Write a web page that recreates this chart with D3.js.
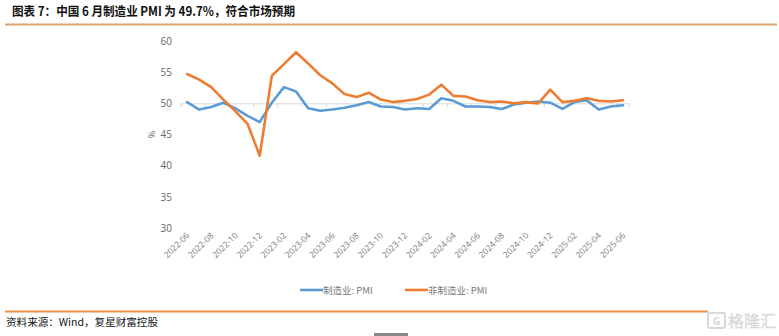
<!DOCTYPE html>
<html>
<head>
<meta charset="utf-8">
<script src="https://cdn.jsdelivr.net/npm/d3@7/dist/d3.min.js"></script>
<style>
  html, body { margin: 0; padding: 0; background: #fff; }
  svg { display: block; }
</style>
</head>
<body>
<svg id="chart" width="779" height="336"></svg>
<script>
// Monthly PMI, 2022-06 .. 2025-06
const months = [
  "2022-06","2022-07","2022-08","2022-09","2022-10","2022-11","2022-12",
  "2023-01","2023-02","2023-03","2023-04","2023-05","2023-06","2023-07","2023-08","2023-09","2023-10","2023-11","2023-12",
  "2024-01","2024-02","2024-03","2024-04","2024-05","2024-06","2024-07","2024-08","2024-09","2024-10","2024-11","2024-12",
  "2025-01","2025-02","2025-03","2025-04","2025-05","2025-06"
];
const manufacturing = [
  50.2, 49.0, 49.4, 50.1, 49.2, 48.0, 47.0,
  50.1, 52.6, 51.9, 49.2, 48.8, 49.0, 49.3, 49.7, 50.2, 49.5, 49.4, 49.0,
  49.2, 49.1, 50.8, 50.4, 49.5, 49.5, 49.4, 49.1, 49.8, 50.1, 50.3, 50.1,
  49.1, 50.2, 50.5, 49.0, 49.5, 49.7
];
const nonManufacturing = [
  54.7, 53.8, 52.6, 50.6, 48.7, 46.7, 41.6,
  54.4, 56.3, 58.2, 56.4, 54.5, 53.2, 51.5, 51.0, 51.7, 50.6, 50.2, 50.4,
  50.7, 51.4, 53.0, 51.2, 51.1, 50.5, 50.2, 50.3, 50.0, 50.2, 50.0, 52.2,
  50.2, 50.4, 50.8, 50.4, 50.3, 50.5
];
const yTicks = [30, 35, 40, 45, 50, 55, 60];
const seriesNames = ["制造业: PMI", "非制造业:  PMI"];
const seriesColors = ["#5b9bd5", "#ed7d31"];

const svg = d3.select("#chart");
const cjk = "'Noto Sans CJK SC', 'Noto Sans', sans-serif";

// Title and rule
svg.append("text")
  .attr("x", 12).attr("y", 16)
  .attr("font-family", cjk).attr("font-size", 12.5).attr("font-weight", "bold")
  .attr("fill", "#111")
  .attr("textLength", 283).attr("lengthAdjust", "spacingAndGlyphs")
  .text("图表 7：中国 6 月制造业 PMI 为 49.7%，符合市场预期");
svg.append("line")
  .attr("x1", 5).attr("x2", 777).attr("y1", 24.5).attr("y2", 24.5)
  .attr("stroke", "#dba56d").attr("stroke-width", 2);

// Scales
const x = d3.scaleBand().domain(months).range([181, 629]);
const y = d3.scaleLinear().domain([30, 60]).range([228, 41]);
const cx = d => x(d) + x.bandwidth() / 2;

// Y axis labels
const yAxis = d3.axisLeft(y).tickValues(yTicks).tickSize(0).tickPadding(0);
const gy = svg.append("g").attr("transform", "translate(172,0)").call(yAxis);
gy.select(".domain").remove();
gy.selectAll("text")
  .attr("font-family", "'Open Sans', sans-serif").attr("font-size", 10)
  .attr("fill", "#666");

svg.append("text")
  .attr("transform", `translate(155,${y(45)}) rotate(-90)`)
  .attr("text-anchor", "middle")
  .attr("font-family", "'Open Sans', sans-serif").attr("font-size", 9)
  .attr("fill", "#666")
  .text("%");

// Category axis crosses at 50
const xAxis = d3.axisBottom(x)
  .tickValues(months.filter((d, i) => i % 2 === 0))
  .tickSize(4).tickFormat("");
const gx = svg.append("g").attr("transform", `translate(0,${y(50)})`).call(xAxis);
gx.select(".domain").attr("stroke", "#d9d9d9");
gx.selectAll(".tick line").attr("stroke", "#d9d9d9")
  .attr("transform", `translate(${-x.bandwidth() / 2},0)`);

// Category labels at the bottom, rotated
svg.append("g").selectAll("text")
  .data(months.filter((d, i) => i % 2 === 0))
  .join("text")
  .attr("transform", d => `translate(${cx(d) + 3},${236}) rotate(-45)`)
  .attr("text-anchor", "end")
  .attr("font-family", "'Open Sans', sans-serif").attr("font-size", 8.5)
  .attr("fill", "#777")
  .text(d => d);

// Lines
const line = d3.line().x((d, i) => cx(months[i])).y(d => y(d));
[manufacturing, nonManufacturing].forEach((vals, k) => {
  svg.append("path")
    .datum(vals)
    .attr("fill", "none")
    .attr("stroke", seriesColors[k])
    .attr("stroke-width", 2.6)
    .attr("stroke-linejoin", "round")
    .attr("stroke-linecap", "round")
    .attr("d", line);
});

// Legend
const legendX = [300, 405];
seriesNames.forEach((name, k) => {
  const g = svg.append("g").attr("transform", `translate(${legendX[k]},290)`);
  g.append("line").attr("x1", 0).attr("x2", 23).attr("y1", 0).attr("y2", 0)
    .attr("stroke", seriesColors[k]).attr("stroke-width", 2.6);
  g.append("text").attr("x", 23).attr("y", 3.5)
    .attr("font-family", cjk).attr("font-size", 9.5).attr("fill", "#777")
    .text(name);
});

// Footer rule and source
svg.append("line")
  .attr("x1", 5).attr("x2", 708).attr("y1", 311.5).attr("y2", 311.5)
  .attr("stroke", "#e8924a").attr("stroke-width", 2);
svg.append("text")
  .attr("x", 6).attr("y", 326)
  .attr("font-family", cjk).attr("font-size", 10).attr("fill", "#111")
  .attr("textLength", 152).attr("lengthAdjust", "spacingAndGlyphs")
  .text("资料来源：Wind，复星财富控股");

// Watermark
const wm = svg.append("g").attr("opacity", 0.45);
wm.append("rect").attr("x", 708).attr("y", 313).attr("width", 17).attr("height", 15)
  .attr("rx", 2).attr("fill", "none").attr("stroke", "#aaa").attr("stroke-width", 2);
wm.append("text").attr("x", 716.5).attr("y", 325).attr("text-anchor", "middle")
  .attr("font-family", "'Open Sans', sans-serif").attr("font-weight", "bold")
  .attr("font-size", 11).attr("fill", "#aaa").text("G");
wm.append("text").attr("x", 728).attr("y", 327)
  .attr("font-family", cjk).attr("font-size", 16).attr("fill", "#aaa")
  .attr("stroke", "#aaa").attr("stroke-width", 0.3)
  .text("格隆汇");

// Small tab at the bottom edge
svg.append("rect").attr("x", 374).attr("y", 333).attr("width", 34).attr("height", 3)
  .attr("fill", "#8a8a8a");
</script>
</body>
</html>
